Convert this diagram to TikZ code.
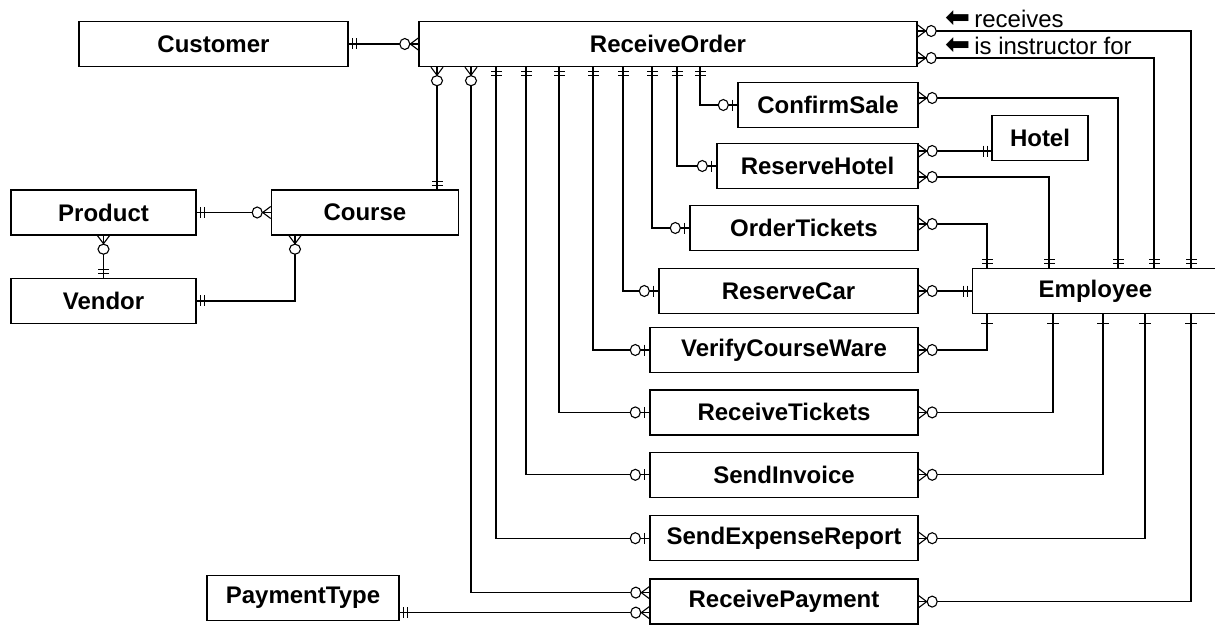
\documentclass[tikz,border=0pt]{standalone}
\usepackage{fontspec}
\setmainfont{Liberation Sans}
\newfontfamily\symfont{DejaVu Sans}
\usetikzlibrary{positioning, decorations.markings}

% cardinality marks, box edge at the origin, line leaving to the left
\newcommand{\zeromany}{%
  \draw[mark line] (0,-6) -- (-8,0) -- (0,6);
  \filldraw[mark line, fill=white] (-13.5,0) ellipse [x radius=5pt, y radius=5.5pt];}
\newcommand{\zeroone}{%
  \draw[mark line] (-5,-5.5) -- (-5,5.5);
  \filldraw[mark line, fill=white] (-14,0) ellipse [x radius=5pt, y radius=5.5pt];}
\newcommand{\onlyone}{%
  \draw[mark line] (-4,-5.5) -- (-4,5.5) (-8,-5.5) -- (-8,5.5);}
\newcommand{\justone}{%
  \draw[mark line] (-9,-6) -- (-9,6);}

\begin{document}
\begin{tikzpicture}[
    x=1pt, y=-1pt,
    entity/.style={rectangle, draw, line width=1.4pt, fill=white, minimum width=#1, minimum height=45pt, inner sep=0pt, font=\fontsize{24}{28}\selectfont\bfseries},
    rel/.style={line width=1.2pt},
    mark line/.style={line width=1.1pt},
    lbl/.style={font=\fontsize{24}{28}\selectfont, inner sep=0pt, anchor=west},
    card from/.style={postaction={decorate, decoration={markings,
        mark=at position 0 with {\begin{scope}[xscale=-1]#1\end{scope}}}}},
    card to/.style={postaction={decorate, decoration={markings,
        mark=at position 1 with {#1}}}},
]
    \useasboundingbox (0,0) rectangle (1215,626);

    % Order entities
    \node[entity=269pt] (cust) at (213.5,44) {Customer};
    \node[entity=498pt] (recv) at (668,44) {ReceiveOrder};
    \node[entity=180pt] (conf) at (828,105) {ConfirmSale};
    \node[entity=201pt] (rhot) at (817.5,166) {ReserveHotel};
    \node[entity=96pt] (hotel) at (1040,138) {Hotel};
    \node[entity=228pt] (otix) at (804,228) {OrderTickets};
    \node[entity=259pt] (rcar) at (788.5,291) {ReserveCar};
    \node[entity=246pt, right=53pt of rcar] (emp) {Employee};

    % Follow-up entities
    \node[entity=268pt] (vcw) at (784,350) {VerifyCourseWare};
    \node[entity=268pt, below=16pt of vcw] (rtix) {ReceiveTickets};
    \node[entity=268pt, below=16pt of rtix] (sinv) {SendInvoice};
    \node[entity=268pt, below=17pt of sinv] (sexp) {SendExpenseReport};
    \node[entity=268pt, below=17pt of sexp] (rpay) {ReceivePayment};

    % Product side
    \node[entity=185pt] (prod) at (103.5,212.5) {Product};
    \node[entity=187pt, right=74pt of prod] (course) {Course};
    \node[entity=185pt, below=42pt of prod] (vend) {Vendor};
    \node[entity=192pt] (ptype) at (303,598) {PaymentType};

    % Relationship labels
    \node[lbl] (lrcv) at (945,19) {{\symfont\fontsize{30}{30}\selectfont ⬅}\,receives};
    \node[lbl] (linst) at (945,46) {{\symfont\fontsize{30}{30}\selectfont ⬅}\,is instructor for};

    % ReceiveOrder relationships
    \draw[rel, card from=\onlyone, card to=\zeromany] (cust) -- (recv);
    \draw[rel, card from=\zeromany, card to=\onlyone] (recv.south -| 437,0) -- (course.north -| 437,0);
    \draw[rel, card from=\zeromany, card to=\zeromany] (recv.south -| 471,0) |- ([yshift=9pt]rpay.west);
    \foreach \x/\t in {496/sexp, 526/sinv, 559/rtix, 593/vcw, 623/rcar, 652/otix, 677/rhot, 700/conf}
        \draw[rel, card from=\onlyone, card to=\zeroone] (recv.south -| \x,0) |- (\t.west);

    % Employee relationships
    \draw[rel, card from=\zeromany, card to=\onlyone] ([yshift=13pt]recv.east) -| (1191,0 |- emp.north);
    \draw[rel, card from=\zeromany, card to=\onlyone] ([yshift=-14pt]recv.east) -| (1154,0 |- emp.north);
    \draw[rel, card from=\zeromany, card to=\onlyone] ([yshift=7pt]conf.east) -| (1118,0 |- emp.north);
    \draw[rel, card from=\zeromany, card to=\onlyone] ([yshift=-11pt]rhot.east) -| (1049,0 |- emp.north);
    \draw[rel, card from=\zeromany, card to=\onlyone] ([yshift=4pt]otix.east) -| (987,0 |- emp.north);
    \draw[rel, card from=\zeromany, card to=\onlyone] (rcar) -- (emp);
    \foreach \t/\x in {vcw/987, rtix/1053, sinv/1103, sexp/1145, rpay/1191}
        \draw[rel, card from=\zeromany, card to=\justone] (\t.east) -| (\x,0 |- emp.south);

    % Hotel
    \coordinate (hh) at ([yshift=15pt]rhot.east);
    \draw[rel, card from=\zeromany, card to=\onlyone] (hh) -- (hh -| hotel.west);

    % Product, Course, Vendor
    \draw[rel, card from=\onlyone, card to=\zeromany] (prod) -- (course);
    \draw[rel, card from=\zeromany, card to=\onlyone] (prod) -- (vend);
    \draw[rel, card from=\onlyone, card to=\zeromany] (vend) -| (295,0 |- course.south);

    % PaymentType
    \coordinate (pp) at ([yshift=-11pt]rpay.west);
    \draw[rel, card from=\onlyone, card to=\zeromany] (ptype.east |- pp) -- (pp);

\end{tikzpicture}
\end{document}
